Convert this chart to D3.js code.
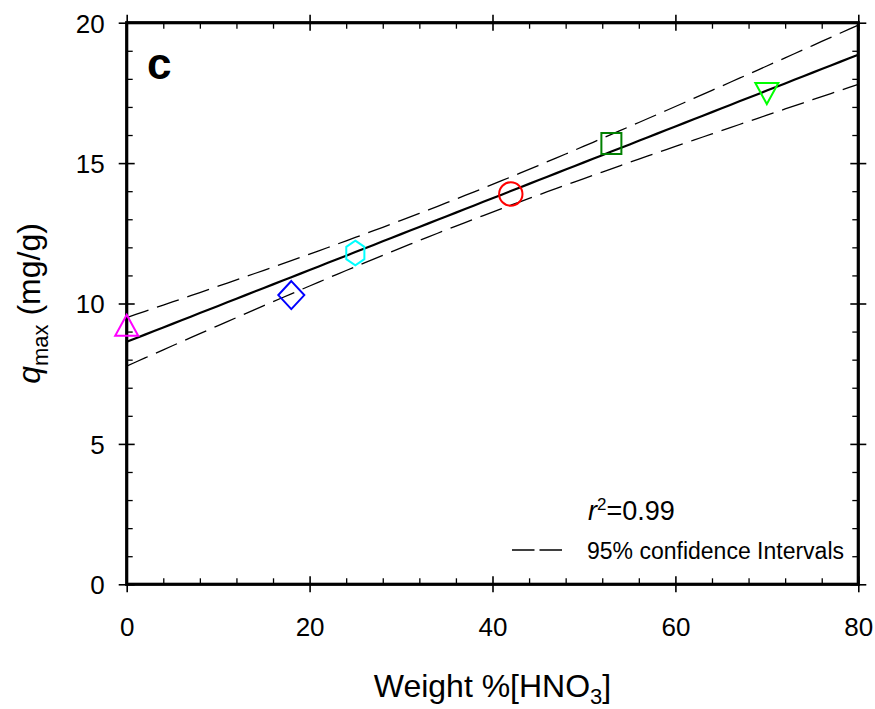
<!DOCTYPE html>
<html>
<head>
<meta charset="utf-8">
<script src="https://cdn.jsdelivr.net/npm/d3@7"></script>
<style>
  html, body { margin: 0; padding: 0; background: #fff; }
  svg { display: block; font-family: "Liberation Sans", Arial, Helvetica, sans-serif; }
</style>
</head>
<body>
<svg id="chart" width="875" height="709"></svg>
<script>
// ---- data ----
const weightHNO3 = [0, 18, 25, 42, 53, 70];
const qmax = [9.1, 10.3, 11.8, 13.9, 15.7, 17.6];
const markerShapes = ["triangleUp", "diamond", "hexagon", "circle", "square", "triangleDown"];
const markerColors = ["#ff00ff", "#0000ff", "#00ffff", "#ff0000", "#008000", "#00ff00"];
const xTicks = [0, 20, 40, 60, 80];
const yTicks = [0, 5, 10, 15, 20];
const xMinorTicks = [4, 8, 12, 16, 24, 28, 32, 36, 44, 48, 52, 56, 64, 68, 72, 76];
const yMinorTicks = [1, 2, 3, 4, 6, 7, 8, 9, 11, 12, 13, 14, 16, 17, 18, 19];
const rSquaredText = "0.99";
const legendText = "95% confidence Intervals";
const panelLabel = "c";
const tCrit = 2.776; // t(0.975, df = 4)

// ---- layout ----
const W = 875, H = 709;
const margin = { left: 126.7, right: 16.7, top: 22.7, bottom: 124.7 };
const iw = W - margin.left - margin.right;
const ih = H - margin.top - margin.bottom;

const svg = d3.select("#chart");
const g = svg.append("g").attr("transform", `translate(${margin.left},${margin.top})`);

const x = d3.scaleLinear().domain([0, 80]).range([0, iw]);
const y = d3.scaleLinear().domain([0, 20]).range([ih, 0]);

// ---- linear regression and 95% CI from the data ----
const n = weightHNO3.length;
const mx = d3.mean(weightHNO3), my = d3.mean(qmax);
let sxx = 0, sxy = 0;
for (let i = 0; i < n; i++) {
  sxx += (weightHNO3[i] - mx) ** 2;
  sxy += (weightHNO3[i] - mx) * (qmax[i] - my);
}
const slope = sxy / sxx, intercept = my - slope * mx;
let sse = 0;
for (let i = 0; i < n; i++) sse += (qmax[i] - (intercept + slope * weightHNO3[i])) ** 2;
const s = Math.sqrt(sse / (n - 2));
const xs = d3.range(0, 80.001, 1);
const fitPts = xs.map(v => [v, intercept + slope * v]);
const half = v => tCrit * s * Math.sqrt(1 / n + (v - mx) ** 2 / sxx);
const upperPts = xs.map(v => [v, intercept + slope * v + half(v)]);
const lowerPts = xs.map(v => [v, intercept + slope * v - half(v)]);

const line = d3.line().x(d => x(d[0])).y(d => y(d[1]));

// ---- axes ----
function crossTicks(sel, orient) {
  sel.selectAll(".tick line").each(function () {
    const l = d3.select(this);
    if (orient === "h") l.attr("y1", -8).attr("y2", 8);
    else l.attr("x1", -8).attr("x2", 8);
  }).attr("stroke", "#000").attr("stroke-width", 1.6);
  sel.select(".domain").remove();
}
function minorStyle(sel) {
  sel.selectAll(".tick line").attr("stroke", "#000").attr("stroke-width", 1.3);
  sel.selectAll(".tick text").remove();
  sel.select(".domain").remove();
}

// bottom
const gxB = g.append("g").attr("transform", `translate(0,${ih})`)
  .call(d3.axisBottom(x).tickValues(xTicks).tickSize(8).tickSizeOuter(0).tickFormat(d3.format("d")));
crossTicks(gxB, "h");
gxB.selectAll(".tick text").attr("y", 33).attr("dy", "0.71em")
  .attr("font-size", 26).attr("fill", "#000").attr("font-family", "Liberation Sans, Arial, sans-serif");
minorStyle(g.append("g").attr("transform", `translate(0,${ih})`)
  .call(d3.axisBottom(x).tickValues(xMinorTicks).tickSize(-6).tickSizeOuter(0)));

// top
crossTicks(g.append("g").call(d3.axisTop(x).tickValues(xTicks).tickSize(8).tickSizeOuter(0).tickFormat("")), "h");
minorStyle(g.append("g").call(d3.axisTop(x).tickValues(xMinorTicks).tickSize(-6).tickSizeOuter(0)));

// left
const gyL = g.append("g")
  .call(d3.axisLeft(y).tickValues(yTicks).tickSize(8).tickSizeOuter(0).tickFormat(d3.format("d")));
crossTicks(gyL, "v");
gyL.selectAll(".tick text").attr("x", -22).attr("dy", "0.36em")
  .attr("font-size", 26).attr("fill", "#000").attr("font-family", "Liberation Sans, Arial, sans-serif");
minorStyle(g.append("g").call(d3.axisLeft(y).tickValues(yMinorTicks).tickSize(-6).tickSizeOuter(0)));

// right
crossTicks(g.append("g").attr("transform", `translate(${iw},0)`)
  .call(d3.axisRight(y).tickValues(yTicks).tickSize(8).tickSizeOuter(0).tickFormat("")), "v");
minorStyle(g.append("g").attr("transform", `translate(${iw},0)`)
  .call(d3.axisRight(y).tickValues(yMinorTicks).tickSize(-6).tickSizeOuter(0)));

// frame
g.append("rect").attr("x", 0).attr("y", 0).attr("width", iw).attr("height", ih)
  .attr("fill", "none").attr("stroke", "#000").attr("stroke-width", 3.2);

// ---- lines ----
g.append("path").datum(upperPts).attr("d", line)
  .attr("fill", "none").attr("stroke", "#000").attr("stroke-width", 1.3).attr("stroke-dasharray", "23,9");
g.append("path").datum(lowerPts).attr("d", line)
  .attr("fill", "none").attr("stroke", "#000").attr("stroke-width", 1.3).attr("stroke-dasharray", "23,9");
g.append("path").datum(fitPts).attr("d", line)
  .attr("fill", "none").attr("stroke", "#000").attr("stroke-width", 2.2);

// ---- markers ----
function markerPath(shape) {
  const p = d3.path();
  if (shape === "triangleUp") {
    const w = 11.5, h = 21;
    p.moveTo(0, -2 * h / 3); p.lineTo(w, h / 3); p.lineTo(-w, h / 3); p.closePath();
  } else if (shape === "triangleDown") {
    const w = 11.5, h = 21;
    p.moveTo(0, 2 * h / 3); p.lineTo(w, -h / 3); p.lineTo(-w, -h / 3); p.closePath();
  } else if (shape === "diamond") {
    p.moveTo(0, -14); p.lineTo(13, 0); p.lineTo(0, 14); p.lineTo(-13, 0); p.closePath();
  } else if (shape === "hexagon") {
    const r = 12.3;
    for (let k = 0; k < 6; k++) {
      const a = -Math.PI / 2 + k * Math.PI / 3;
      const px = r * 0.85 * Math.cos(a), py = r * Math.sin(a);
      if (k === 0) p.moveTo(px, py); else p.lineTo(px, py);
    }
    p.closePath();
  } else if (shape === "square") {
    p.rect(-10, -10.5, 20, 21);
  } else if (shape === "circle") {
    p.arc(0, 0, 11.7, 0, 2 * Math.PI);
  }
  return p.toString();
}
const pts = weightHNO3.map((v, i) => ({ x: v, y: qmax[i], shape: markerShapes[i], color: markerColors[i] }));
g.selectAll("path.marker").data(pts).enter().append("path")
  .attr("class", "marker")
  .attr("transform", d => `translate(${x(d.x)},${y(d.y)})`)
  .attr("d", d => markerPath(d.shape))
  .attr("fill", "none").attr("stroke", d => d.color).attr("stroke-width", 2);

// ---- texts ----
svg.append("text").attr("x", 147).attr("y", 79)
  .attr("font-size", 44).attr("font-weight", "bold").text(panelLabel);

const r2 = svg.append("text").attr("x", 588).attr("y", 520).attr("font-size", 27);
r2.append("tspan").attr("font-style", "italic").text("r");
r2.append("tspan").attr("font-size", 17).attr("dy", -10).text("2");
r2.append("tspan").attr("dy", 10).text("=" + rSquaredText);

svg.append("line").attr("x1", 512).attr("x2", 562).attr("y1", 550).attr("y2", 550)
  .attr("stroke", "#000").attr("stroke-width", 1.3).attr("stroke-dasharray", "22.5,5");
svg.append("text").attr("x", 587).attr("y", 559).attr("font-size", 23).text(legendText);

// x title
const xt = svg.append("text").attr("x", margin.left + iw / 2).attr("y", 697)
  .attr("text-anchor", "middle").attr("font-size", 32);
xt.append("tspan").text("Weight %[HNO");
xt.append("tspan").attr("font-size", 22).attr("dy", 7).text("3");
xt.append("tspan").attr("dy", -7).text("]");

// y title
const yt = svg.append("text").attr("transform", `translate(40,${margin.top + ih / 2}) rotate(-90)`)
  .attr("text-anchor", "middle").attr("font-size", 32);
yt.append("tspan").attr("font-style", "italic").text("q");
yt.append("tspan").attr("font-size", 22).attr("dy", 8).text("max");
yt.append("tspan").attr("dy", -8).text(" (mg/g)");
</script>
</body>
</html>
